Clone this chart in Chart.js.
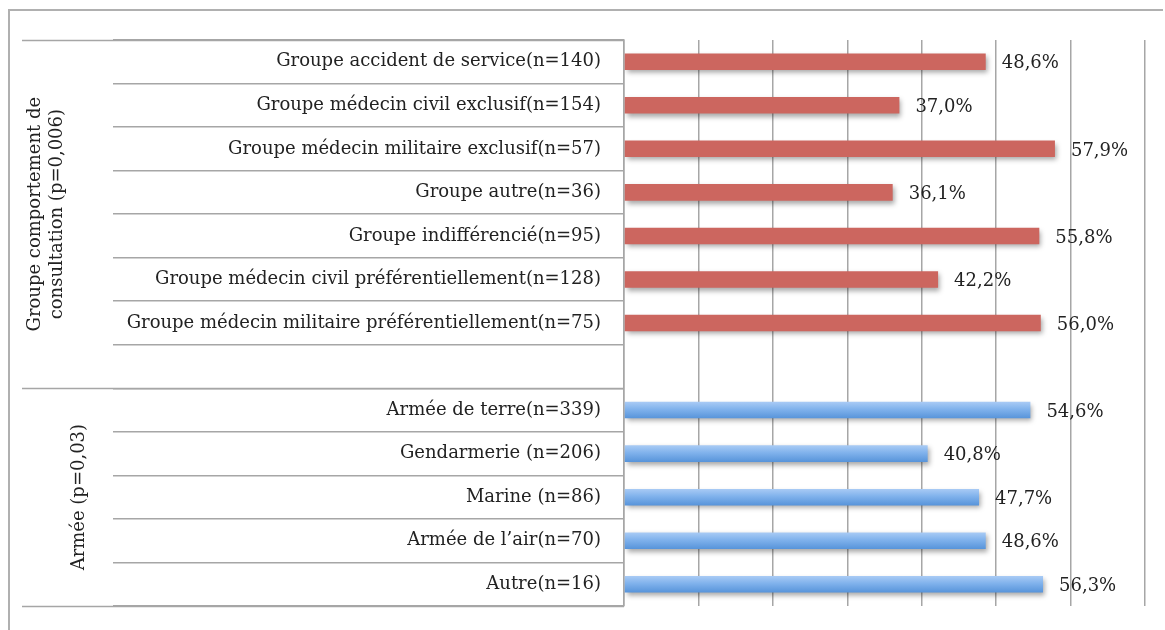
<!DOCTYPE html>
<html>
<head>
<meta charset="utf-8">
<script src="https://cdn.jsdelivr.net/npm/chart.js@4/dist/chart.umd.min.js"></script>
<style>
  html, body { margin: 0; padding: 0; background: #fff; overflow: hidden; }
  #chart { display: block; }
</style>
</head>
<body>
<canvas id="chart" width="1165" height="630"></canvas>
<script>
const consultLabels = [
    "Groupe accident de service(n=140)",
    "Groupe médecin civil exclusif(n=154)",
    "Groupe médecin militaire exclusif(n=57)",
    "Groupe autre(n=36)",
    "Groupe indifférencié(n=95)",
    "Groupe médecin civil préférentiellement(n=128)",
    "Groupe médecin militaire préférentiellement(n=75)"
]
const consultValues = [48.6, 37.0, 57.9, 36.1, 55.8, 42.2, 56.0]

const armyLabels = [
    "Armée de terre(n=339)",
    "Gendarmerie (n=206)",
    "Marine (n=86)",
    "Armée de l’air(n=70)",
    "Autre(n=16)"
]
const armyValues = [54.6, 40.8, 47.7, 48.6, 56.3]

const groupTitles = [
    ["Groupe comportement de", "consultation (p=0,006)"],
    ["Armée (p=0,03)"]
]

const xMax = 70
const xStep = 10

// one empty row separates the two groups
const gap = consultLabels.length
const labels = [...consultLabels, "", ...armyLabels]
const redData = labels.map((_, i) => i < gap ? consultValues[i] : null)
const blueData = labels.map((_, i) => i > gap ? armyValues[i - gap - 1] : null)

const FONT = "'DejaVu Serif', serif"
const FONT_SIZE = 18
const TEXT = "#222"
const BAR_FRAC = 0.38
const LINE = "#a6a6a6"

function blueFill(ctx) {
    const chart = ctx.chart
    const y = chart.scales.y
    if (!y || ctx.dataIndex === undefined) return "#7aaeea"
    const py = y.getPixelForValue(ctx.dataIndex)
    const h = Math.abs(y.getPixelForValue(1) - y.getPixelForValue(0)) * BAR_FRAC
    if (!isFinite(py) || !isFinite(h) || h === 0) return "#7aaeea"
    const g = chart.ctx.createLinearGradient(0, py - h / 2, 0, py + h / 2)
    g.addColorStop(0, "#a9cbf5")
    g.addColorStop(0.45, "#80b2ec")
    g.addColorStop(1, "#5794da")
    return g
}

// outer box: only its top and left edges fall inside the canvas
const outerBox = {
    id: "outerBox",
    beforeDraw(chart) {
        const c = chart.ctx
        c.save()
        c.strokeStyle = "#b0b0b0"
        c.lineWidth = 2
        c.beginPath()
        c.moveTo(9, chart.height)
        c.lineTo(9, 10)
        c.lineTo(chart.width - 2, 10)
        c.stroke()
        c.restore()
    }
}

// soft drop shadow under the bars, then the value labels
const barExtras = {
    id: "barExtras",
    beforeDatasetsDraw(chart) {
        const c = chart.ctx
        c.save()
        c.shadowColor = "rgba(0,0,0,0.35)"
        c.shadowBlur = 5
        c.shadowOffsetX = 2
        c.shadowOffsetY = 3
    },
    afterDatasetsDraw(chart) {
        const c = chart.ctx
        c.restore()
        c.save()
        c.font = FONT_SIZE + "px " + FONT
        c.fillStyle = TEXT
        c.textAlign = "left"
        c.textBaseline = "middle"
        chart.data.datasets.forEach((ds, di) => {
            chart.getDatasetMeta(di).data.forEach((el, i) => {
                const v = ds.data[i]
                if (v === null) return
                c.fillText(v.toFixed(1).replace(".", ",") + "%", el.x + 16, el.y + 2)
            })
        })
        c.restore()
    }
}

// long separator lines and rotated titles for the two groups
const groupFrame = {
    id: "groupFrame",
    afterDraw(chart) {
        const c = chart.ctx
        const y = chart.scales.y
        const left = chart.chartArea.left
        const bounds = [-0.5, gap + 0.5, labels.length - 0.5]
        c.save()
        c.strokeStyle = LINE
        c.lineWidth = 1.5
        bounds.forEach(b => {
            const py = Math.round(y.getPixelForValue(b)) + 0.5
            c.beginPath()
            c.moveTo(22, py)
            c.lineTo(left, py)
            c.stroke()
        })
        c.font = FONT_SIZE + "px " + FONT
        c.fillStyle = TEXT
        c.textAlign = "center"
        c.textBaseline = "middle"
        const titleX = [[35, 57], [79]]
        groupTitles.forEach((lines, gi) => {
            const top = y.getPixelForValue(bounds[gi])
            const bottom = y.getPixelForValue(bounds[gi + 1])
            const cy = (top + bottom) / 2
            lines.forEach((t, li) => {
                c.save()
                c.translate(titleX[gi][li], cy)
                c.rotate(-Math.PI / 2)
                c.fillText(t, 0, 0)
                c.restore()
            })
        })
        c.restore()
    }
}

const chart = new Chart(document.getElementById("chart"), {
    type: "bar",
    data: {
        labels: labels,
        datasets: [
            {
                data: redData,
                backgroundColor: "#cc665f",
                grouped: false,
                categoryPercentage: 1,
                barPercentage: BAR_FRAC,
            },
            {
                data: blueData,
                backgroundColor: blueFill,
                grouped: false,
                categoryPercentage: 1,
                barPercentage: BAR_FRAC,
            }
        ],
    },
    options: {
        indexAxis: "y",
        responsive: false,
        animation: false,
        devicePixelRatio: 1,
        layout: { padding: { top: 40, right: 20, bottom: 24, left: 0 } },
        plugins: {
            legend: { display: false },
            tooltip: { enabled: false },
        },
        scales: {
            x: {
                min: 0,
                max: xMax,
                ticks: { display: false, stepSize: xStep },
                grid: { color: LINE, lineWidth: 1.5, drawTicks: false },
                border: { display: false },
                afterFit(s) { s.height = 0 },
            },
            y: {
                ticks: {
                    autoSkip: false,
                    padding: -488,
                    color: TEXT,
                    font: { family: FONT, size: FONT_SIZE },
                },
                grid: {
                    offset: true,
                    drawOnChartArea: false,
                    tickLength: 511,
                    color: LINE,
                    lineWidth: 1.5,
                },
                border: { display: true, color: LINE, width: 1.5 },
                afterFit(s) { s.width = 624 },
            },
        },
    },
    plugins: [outerBox, barExtras, groupFrame],
})
</script>
</body>
</html>
